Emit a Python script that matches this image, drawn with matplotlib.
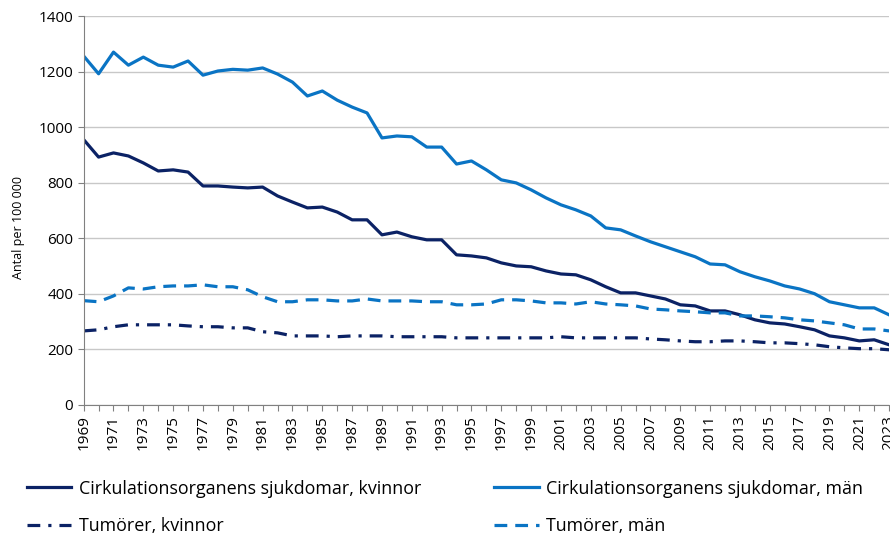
import matplotlib
matplotlib.use("Agg")
from matplotlib import pyplot as plt

years = list(range(1969, 2024))

circ_kvinnor = [955, 892, 907, 896, 871, 842, 846, 838, 788, 788, 784, 781, 784, 752, 730, 709, 712, 694, 666, 666,
                612, 622, 605, 594, 594, 540, 536, 529, 511, 500, 497, 482, 471, 468, 450, 425, 403, 403, 392, 381,
                360, 356, 338, 338, 324, 306, 295, 291, 281, 270, 248, 241, 230, 234, 216]
circ_man = [1256, 1192, 1270, 1223, 1252, 1223, 1216, 1238, 1187, 1202, 1208, 1205, 1213, 1191, 1162, 1112, 1130,
            1097, 1072, 1051, 961, 968, 965, 928, 928, 867, 878, 846, 810, 799, 774, 745, 720, 702, 680, 637, 630,
            608, 587, 569, 551, 533, 507, 504, 479, 461, 446, 428, 417, 400, 371, 360, 349, 349, 324]
tum_kvinnor = [266, 270, 281, 288, 288, 288, 288, 284, 281, 281, 277, 277, 263, 259, 248, 248, 248, 245, 248, 248,
               248, 245, 245, 245, 245, 241, 241, 241, 241, 241, 241, 241, 245, 241, 241, 241, 241, 241, 237, 234,
               230, 227, 227, 230, 230, 227, 223, 223, 220, 216, 209, 205, 202, 202, 198]
tum_man = [375, 371, 392, 421, 417, 425, 428, 428, 432, 425, 425, 414, 389, 371, 371, 378, 378, 374, 374, 381,
           374, 374, 374, 371, 371, 360, 360, 363, 378, 378, 374, 367, 367, 363, 371, 363, 360, 356, 345, 342,
           338, 335, 331, 331, 320, 320, 317, 313, 306, 302, 295, 288, 273, 273, 266]

labels = ["Cirkulationsorganens sjukdomar, kvinnor", "Tumörer, kvinnor",
          "Cirkulationsorganens sjukdomar, män", "Tumörer, män"]

navy = "#0b2265"
blue = "#0a74c4"

plt.rcParams["font.family"] = ["Open Sans", "DejaVu Sans"]

fig = plt.figure(figsize=(8.9, 5.34), dpi=100)
ax = fig.add_axes([0.094, 0.242, 0.905, 0.728])

l1, = ax.plot(years, circ_kvinnor, color=navy, lw=2.3)
l2, = ax.plot(years, tum_kvinnor, color=navy, lw=2.3, linestyle=(0, (4, 2.5, 1, 2.5)))
l3, = ax.plot(years, circ_man, color=blue, lw=2.3)
l4, = ax.plot(years, tum_man, color=blue, lw=2.3, linestyle=(0, (4, 2.5)))

ax.set_xlim(1969, 2023)
ax.set_ylim(0, 1400)
ax.set_yticks(range(0, 1401, 200))
ax.set_xticks(range(1969, 2024, 2))
ax.set_xticks(range(1969, 2024), minor=True)
ax.tick_params(axis="x", rotation=90, labelsize=11, length=4, color="#808080", width=0.8)
ax.tick_params(axis="x", which="minor", length=4, color="#808080", width=0.8)
ax.tick_params(axis="y", labelsize=11, length=4, color="#808080", width=0.8)
ax.grid(axis="y", color="#c8c8c8", lw=1)
ax.set_axisbelow(True)
for s in ["top", "right"]:
    ax.spines[s].set_visible(False)
ax.spines["left"].set_color("#808080")
ax.spines["bottom"].set_color("#808080")
ax.set_ylabel("Antal per 100 000", fontsize=9)
ax.yaxis.set_label_coords(-0.073, 0.455)

fig.legend([l1, l2, l3, l4], labels, loc="upper left", bbox_to_anchor=(0.03, 0.102), ncol=2,
           frameon=False, fontsize=12.9, handlelength=2.5, columnspacing=4.1, handletextpad=0.4,
           labelspacing=1.08, borderpad=0, borderaxespad=0)

fig.savefig("out.png", dpi=100)
